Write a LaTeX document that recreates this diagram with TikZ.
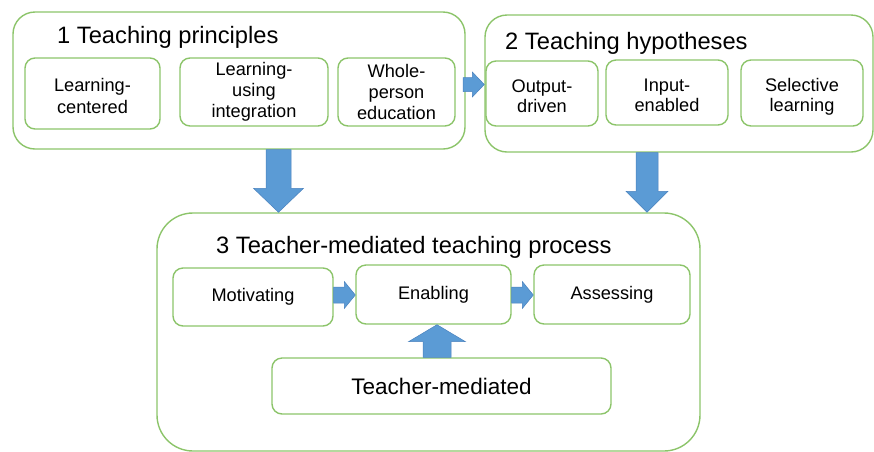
\documentclass[tikz,border=0pt]{standalone}
\usepackage{fontspec}
\setmainfont{Liberation Sans}
\usetikzlibrary{calc}

\definecolor{boxgreen}{RGB}{140,196,106}
\definecolor{arrowblue}{RGB}{91,155,213}
\definecolor{arrowedge}{RGB}{74,130,190}

% Block arrow from #1 to #2: shaft half width #3, head half width #4, head length #5
\newcommand\blockarrow[5]{%
  \coordinate (ba-s) at (#1);
  \coordinate (ba-e) at (#2);
  \coordinate (ba-h) at ($(ba-e)!#5!(ba-s)$);
  \filldraw[blockfill]
    ($(ba-s)!#3!90:(ba-e)$) -- ($(ba-h)!#3!-90:(ba-s)$) --
    ($(ba-h)!#4!-90:(ba-s)$) -- (ba-e) --
    ($(ba-h)!#4!90:(ba-s)$) -- ($(ba-h)!#3!90:(ba-s)$) --
    ($(ba-s)!#3!-90:(ba-e)$) -- cycle;
}

\tikzset{
  outbox/.style={draw=boxgreen, line width=1.4pt, inner sep=0pt},
  inbox/.style={draw=boxgreen, line width=1.4pt, rounded corners=10pt,
    align=center, inner sep=0pt, font=\fontsize{18.2}{21}\selectfont},
  twoline/.style={font=\fontsize{18.2}{20.3}\selectfont, text height=38.5pt},
  titletext/.style={anchor=base west, inner sep=0pt,
    font=\fontsize{23.7}{28}\selectfont},
  blockfill/.style={fill=arrowblue, draw=arrowedge, line width=0.5pt},
}

\begin{document}
\begin{tikzpicture}[x=1pt, y=-1pt]
% outer panels
\node[outbox, rounded corners=22pt, minimum width=452pt, minimum height=137pt] (p1) at (239,80.5) {};
\node[outbox, rounded corners=22pt, minimum width=388pt, minimum height=137pt] (p2) at (679,83.5) {};
\node[outbox, rounded corners=36pt, minimum width=543pt, minimum height=238pt] (p3) at (428.5,332) {};

% panel titles
\node[titletext] (t1) at (57,43) {1 Teaching principles};
\node[titletext] (t2) at (505,49.5) {2 Teaching hypotheses};
\node[titletext] (t3) at (216,253) {3 Teacher-mediated teaching process};

% teaching principles
\node[inbox, minimum width=135pt, minimum height=71pt, font=\fontsize{18.2}{22.7}\selectfont, text height=41pt] (lc) at (92.5,93.5) {Learning-\\centered};
\node[inbox, minimum width=148pt, minimum height=68pt] (lu) at (254,92) {Learning-\\using\\integration};
\node[inbox, minimum width=117pt, minimum height=68pt] (wp) at (396.5,92) {Whole-\\person\\education};

% teaching hypotheses
\node[inbox, twoline, minimum width=112pt, minimum height=65pt] (od) at (542,93.5) {Output-\\driven};
\node[inbox, twoline, minimum width=122pt, minimum height=65pt] (ie) at (667,92.5) {Input-\\enabled};
\node[inbox, twoline, text height=37.8pt, text depth=0pt, minimum width=122pt, minimum height=66pt] (sl) at (802,93) {Selective\\learning};

% teaching process
\node[inbox, minimum width=160pt, minimum height=58pt] (mo) at (253,297) {Motivating};
\node[inbox, minimum width=155pt, minimum height=59pt] (en) at (433.5,294.5) {Enabling};
\node[inbox, minimum width=156pt, minimum height=59pt] (as) at (612,294.5) {Assessing};
\node[inbox, minimum width=339pt, minimum height=56pt, font=\fontsize{22.5}{26}\selectfont] (tm) at (441.5,386) {Teacher-mediated};

% block arrows
\blockarrow{463,84.5}{p2.west |- 0,84.5}{7pt}{12.5pt}{12pt}
\blockarrow{278.5,0 |- p1.south}{278.5,0 |- p3.north}{12.5pt}{25pt}{24pt}
\blockarrow{647,0 |- p2.south}{647,0 |- p3.north}{11pt}{21pt}{21pt}
\blockarrow{mo.east |- 0,295}{en.west |- 0,295}{8pt}{13.5pt}{11pt}
\blockarrow{en.east |- 0,295}{as.west |- 0,295}{8pt}{13.5pt}{11pt}
\blockarrow{437,0 |- tm.north}{437,0 |- en.south}{14pt}{28.5pt}{17pt}

% page frame
\pgfresetboundingbox
\useasboundingbox (0,0) rectangle (874,451);
\end{tikzpicture}
\end{document}
